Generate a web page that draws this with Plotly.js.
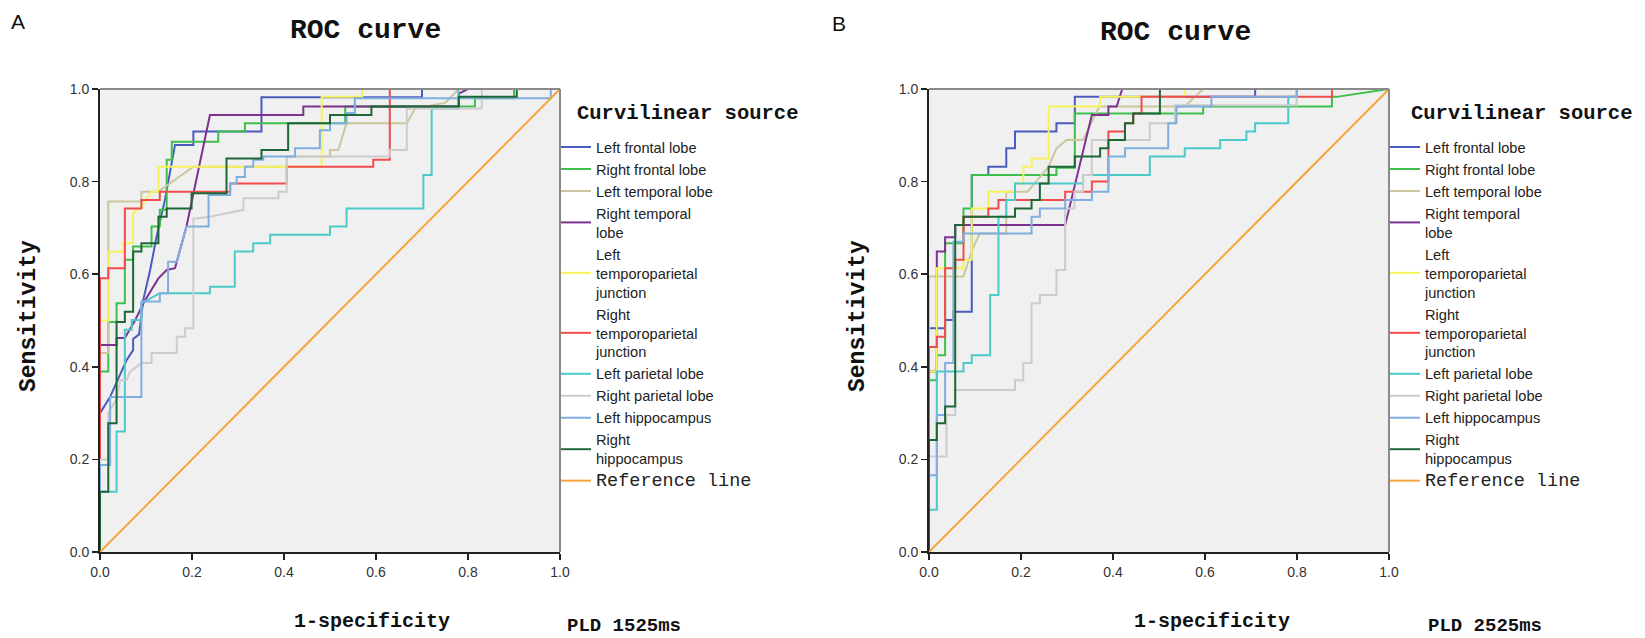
<!DOCTYPE html>
<html><head><meta charset="utf-8">
<script src="https://cdn.plot.ly/plotly-3.0.1.min.js"></script>
<style>html,body{margin:0;padding:0;background:#fff}#chart{width:1645px;height:638px}</style>
</head><body><div id="chart"></div>
<script>
const tickVals = [0, 0.2, 0.4, 0.6, 0.8, 1.0];
const tickText = ['0.0', '0.2', '0.4', '0.6', '0.8', '1.0'];
const seriesNames = ['Left frontal lobe', 'Right frontal lobe', 'Left temporal lobe', 'Right temporal<br>lobe',
  'Left<br>temporoparietal<br>junction', 'Right<br>temporoparietal<br>junction', 'Left parietal lobe',
  'Right parietal lobe', 'Left hippocampus', 'Right<br>hippocampus'];
const refName = 'Reference line';
const seriesColors = ['#4b5bbd', '#3dbf4b', '#cbc69c', '#7d3291', '#f7f35a', '#f24b4b', '#4cc9c9', '#cccccc', '#80aee0', '#1f6636'];
const refColor = '#f6a53a';

// Panel A (PLD 1525ms): [1-specificity, sensitivity]
const A_leftFrontal = [[0,0],[0,0.30],[0.022,0.335],[0.058,0.415],[0.072,0.436],[0.072,0.46],[0.085,0.47],[0.094,0.544],[0.109,0.609],[0.123,0.681],[0.141,0.76],[0.156,0.84],[0.163,0.879],[0.203,0.879],[0.203,0.908],[0.351,0.908],[0.351,0.982],[0.70,0.982],[0.70,1],[1,1]];
const A_rightFrontal = [[0,0],[0,0.39],[0.018,0.39],[0.018,0.497],[0.036,0.497],[0.036,0.537],[0.054,0.537],[0.054,0.631],[0.072,0.631],[0.072,0.66],[0.112,0.66],[0.112,0.703],[0.130,0.703],[0.130,0.739],[0.145,0.739],[0.145,0.847],[0.156,0.847],[0.156,0.886],[0.257,0.886],[0.257,0.908],[0.315,0.908],[0.315,0.926],[0.533,0.926],[0.533,0.962],[0.815,0.962],[0.815,0.98],[0.9,0.98],[0.9,1],[1,1]];
const A_leftTemporal = [[0,0],[0,0.43],[0.018,0.43],[0.018,0.757],[0.090,0.757],[0.090,0.778],[0.126,0.778],[0.203,0.832],[0.406,0.832],[0.406,0.854],[0.5,0.854],[0.5,0.868],[0.518,0.868],[0.536,0.926],[0.667,0.926],[0.685,0.958],[0.75,0.97],[0.78,1],[1,1]];
const A_rightTemporal = [[0,0],[0,0.447],[0.036,0.447],[0.036,0.462],[0.054,0.462],[0.076,0.5],[0.098,0.544],[0.127,0.591],[0.145,0.609],[0.163,0.613],[0.188,0.703],[0.239,0.944],[0.442,0.944],[0.442,0.962],[0.78,0.962],[0.78,0.99],[0.8,1],[1,1]];
const A_leftTPJ = [[0,0],[0,0.5],[0.018,0.5],[0.018,0.649],[0.051,0.649],[0.051,0.667],[0.072,0.667],[0.072,0.731],[0.09,0.746],[0.112,0.778],[0.127,0.778],[0.127,0.832],[0.482,0.832],[0.482,0.983],[0.57,0.983],[0.57,1],[1,1]];
const A_rightTPJ = [[0,0],[0,0.591],[0.018,0.591],[0.018,0.613],[0.054,0.613],[0.054,0.742],[0.09,0.742],[0.09,0.76],[0.13,0.76],[0.13,0.778],[0.283,0.778],[0.283,0.796],[0.406,0.796],[0.406,0.832],[0.594,0.832],[0.594,0.847],[0.63,0.847],[0.63,1],[1,1]];
const A_leftParietal = [[0,0],[0,0.13],[0.036,0.13],[0.036,0.26],[0.054,0.26],[0.054,0.48],[0.069,0.48],[0.069,0.501],[0.09,0.501],[0.09,0.537],[0.13,0.559],[0.239,0.559],[0.239,0.573],[0.293,0.573],[0.293,0.649],[0.333,0.649],[0.333,0.667],[0.37,0.667],[0.37,0.685],[0.50,0.685],[0.50,0.703],[0.536,0.703],[0.536,0.742],[0.703,0.742],[0.703,0.814],[0.721,0.814],[0.721,0.958],[0.779,0.958],[0.779,1],[1,1]];
const A_rightParietal = [[0,0],[0,0.2],[0.018,0.2],[0.018,0.30],[0.036,0.33],[0.044,0.371],[0.058,0.371],[0.065,0.389],[0.09,0.408],[0.112,0.408],[0.112,0.43],[0.167,0.43],[0.167,0.465],[0.185,0.465],[0.185,0.483],[0.203,0.483],[0.203,0.72],[0.239,0.724],[0.312,0.739],[0.312,0.764],[0.388,0.764],[0.388,0.778],[0.406,0.778],[0.406,0.854],[0.63,0.854],[0.63,0.868],[0.667,0.868],[0.667,0.958],[0.83,0.958],[0.83,1],[1,1]];
const A_leftHippocampus = [[0,0],[0,0.188],[0.022,0.188],[0.022,0.335],[0.09,0.335],[0.09,0.541],[0.13,0.541],[0.13,0.559],[0.148,0.559],[0.148,0.627],[0.167,0.627],[0.188,0.703],[0.236,0.703],[0.236,0.771],[0.283,0.771],[0.283,0.796],[0.297,0.796],[0.297,0.81],[0.315,0.81],[0.315,0.832],[0.333,0.832],[0.333,0.847],[0.355,0.847],[0.355,0.854],[0.424,0.854],[0.424,0.872],[0.478,0.872],[0.478,0.911],[0.5,0.911],[0.5,0.926],[0.536,0.926],[0.536,0.948],[0.554,0.948],[0.554,0.98],[0.98,0.98],[0.98,1],[1,1]];
const A_rightHippocampus = [[0,0],[0,0.13],[0.018,0.13],[0.018,0.278],[0.036,0.278],[0.036,0.497],[0.054,0.497],[0.054,0.519],[0.072,0.519],[0.072,0.649],[0.09,0.649],[0.09,0.667],[0.127,0.667],[0.127,0.724],[0.145,0.724],[0.145,0.742],[0.199,0.742],[0.199,0.775],[0.275,0.775],[0.275,0.85],[0.351,0.85],[0.351,0.868],[0.409,0.868],[0.409,0.926],[0.5,0.926],[0.5,0.944],[0.59,0.944],[0.59,0.962],[0.78,0.962],[0.78,0.983],[0.906,0.983],[0.906,1],[1,1]];

// Panel B (PLD 2525ms)
const B_leftFrontal = [[0,0],[0,0.483],[0.035,0.483],[0.035,0.501],[0.053,0.501],[0.053,0.519],[0.093,0.519],[0.093,0.814],[0.129,0.814],[0.129,0.832],[0.168,0.832],[0.168,0.872],[0.187,0.872],[0.187,0.908],[0.277,0.908],[0.277,0.926],[0.317,0.926],[0.317,0.983],[0.709,0.983],[0.709,1],[1,1]];
const B_rightFrontal = [[0,0],[0,0.371],[0.017,0.371],[0.017,0.425],[0.035,0.425],[0.035,0.667],[0.075,0.667],[0.075,0.742],[0.093,0.742],[0.093,0.814],[0.277,0.814],[0.277,0.83],[0.317,0.83],[0.317,0.947],[0.596,0.947],[0.596,0.962],[0.876,0.962],[0.876,0.983],[0.886,0.983],[1,1]];
const B_leftTemporal = [[0,0],[0,0.595],[0.075,0.595],[0.093,0.65],[0.11,0.688],[0.168,0.688],[0.168,0.778],[0.214,0.778],[0.26,0.832],[0.277,0.872],[0.299,0.89],[0.335,0.89],[0.37,0.962],[0.556,0.962],[0.596,1],[1,1]];
const B_rightTemporal = [[0,0],[0,0.39],[0.017,0.39],[0.017,0.649],[0.035,0.649],[0.035,0.68],[0.057,0.68],[0.057,0.706],[0.296,0.706],[0.354,0.944],[0.39,0.944],[0.39,0.962],[0.408,0.962],[0.42,1],[1,1]];
const B_leftTPJ = [[0,0],[0,0.39],[0.017,0.39],[0.017,0.613],[0.075,0.613],[0.075,0.631],[0.093,0.631],[0.093,0.742],[0.129,0.742],[0.129,0.778],[0.187,0.778],[0.187,0.796],[0.205,0.796],[0.205,0.832],[0.223,0.832],[0.223,0.85],[0.26,0.85],[0.26,0.962],[0.372,0.962],[0.372,0.983],[0.556,0.983],[0.556,1],[1,1]];
const B_rightTPJ = [[0,0],[0,0.443],[0.017,0.443],[0.017,0.465],[0.035,0.465],[0.035,0.613],[0.057,0.613],[0.057,0.631],[0.075,0.631],[0.075,0.724],[0.129,0.724],[0.129,0.742],[0.151,0.742],[0.151,0.76],[0.296,0.76],[0.296,0.778],[0.354,0.778],[0.354,0.80],[0.39,0.80],[0.39,0.908],[0.426,0.908],[0.426,0.926],[0.444,0.926],[0.444,0.947],[0.462,0.947],[0.462,0.983],[0.876,0.983],[0.876,1],[1,1]];
const B_leftParietal = [[0,0],[0,0.091],[0.017,0.091],[0.017,0.39],[0.075,0.39],[0.075,0.408],[0.093,0.408],[0.093,0.425],[0.133,0.425],[0.133,0.555],[0.151,0.555],[0.151,0.724],[0.168,0.724],[0.168,0.76],[0.187,0.76],[0.187,0.796],[0.335,0.796],[0.335,0.814],[0.48,0.814],[0.48,0.854],[0.556,0.854],[0.556,0.872],[0.633,0.872],[0.633,0.89],[0.69,0.89],[0.69,0.908],[0.709,0.908],[0.709,0.926],[0.781,0.926],[0.781,0.983],[0.799,0.983],[0.799,1],[1,1]];
const B_rightParietal = [[0,0],[0,0.206],[0.038,0.206],[0.038,0.296],[0.057,0.296],[0.057,0.35],[0.187,0.35],[0.187,0.371],[0.205,0.371],[0.205,0.408],[0.223,0.408],[0.223,0.537],[0.241,0.537],[0.241,0.555],[0.277,0.555],[0.277,0.609],[0.296,0.609],[0.296,0.742],[0.316,0.742],[0.316,0.778],[0.335,0.778],[0.335,0.814],[0.354,0.814],[0.354,0.89],[0.48,0.89],[0.48,0.926],[0.535,0.926],[0.535,0.965],[0.799,0.965],[0.799,1],[1,1]];
const B_leftHippocampus = [[0,0],[0,0.166],[0.017,0.166],[0.017,0.296],[0.035,0.296],[0.035,0.408],[0.053,0.408],[0.053,0.67],[0.075,0.67],[0.075,0.688],[0.223,0.688],[0.223,0.724],[0.241,0.724],[0.241,0.742],[0.296,0.742],[0.296,0.76],[0.354,0.76],[0.354,0.778],[0.39,0.778],[0.39,0.854],[0.426,0.854],[0.426,0.872],[0.52,0.872],[0.52,0.926],[0.538,0.926],[0.538,0.962],[0.614,0.962],[0.614,0.983],[0.80,0.983],[0.80,1],[1,1]];
const B_rightHippocampus = [[0,0],[0,0.242],[0.017,0.242],[0.017,0.278],[0.035,0.278],[0.035,0.314],[0.057,0.314],[0.057,0.706],[0.075,0.706],[0.075,0.724],[0.187,0.724],[0.187,0.742],[0.223,0.742],[0.223,0.76],[0.241,0.76],[0.241,0.796],[0.26,0.796],[0.26,0.832],[0.317,0.832],[0.317,0.854],[0.372,0.854],[0.372,0.872],[0.39,0.872],[0.39,0.89],[0.426,0.89],[0.426,0.926],[0.444,0.926],[0.444,0.947],[0.502,0.947],[0.502,1],[1,1]];

const referenceLine = [[0,0],[1,1]];

const panelA = [A_leftFrontal, A_rightFrontal, A_leftTemporal, A_rightTemporal, A_leftTPJ, A_rightTPJ, A_leftParietal, A_rightParietal, A_leftHippocampus, A_rightHippocampus];
const panelB = [B_leftFrontal, B_rightFrontal, B_leftTemporal, B_rightTemporal, B_leftTPJ, B_rightTPJ, B_leftParietal, B_rightParietal, B_leftHippocampus, B_rightHippocampus];

const W = 1645, H = 638;
function px2x(p) { return p / W; }
function py2y(p) { return 1 - p / H; }

const traces = [];
function addPanel(series, xa, ya, legendId) {
  series.forEach((pts, i) => {
    traces.push({
      type: 'scatter', mode: 'lines', x: pts.map(p => p[0]), y: pts.map(p => p[1]),
      name: seriesNames[i], xaxis: xa, yaxis: ya, legend: legendId,
      line: { color: seriesColors[i], width: 2 }, hoverinfo: 'skip'
    });
  });
  traces.push({
    type: 'scatter', mode: 'lines', x: referenceLine.map(p => p[0]), y: referenceLine.map(p => p[1]),
    name: '<span style="font-family:Liberation Mono;font-size:18.5px">' + refName + '</span>',
    xaxis: xa, yaxis: ya, legend: legendId,
    line: { color: refColor, width: 2 }, hoverinfo: 'skip'
  });
}
addPanel(panelA, 'x', 'y', 'legend');
addPanel(panelB, 'x2', 'y2', 'legend2');

const monoBold = 'Liberation Mono, DejaVu Sans Mono, monospace';
const yDom = [1 - 552 / H, 1 - 89 / H];
function axisX(dom) {
  return { domain: dom, range: [0, 1], tickvals: tickVals, ticktext: tickText, ticks: 'outside', ticklen: 6,
    tickwidth: 1.5, tickcolor: '#222', showline: true, linecolor: '#222', linewidth: 2, showgrid: false, zeroline: false,
    tickfont: { family: 'Liberation Sans Narrow, Liberation Sans, Arial', size: 14, color: '#333' }, fixedrange: true };
}
function axisY(anchor) {
  return { domain: yDom, anchor: anchor, range: [0, 1], tickvals: tickVals, ticktext: tickText, ticks: 'outside', ticklen: 6,
    tickwidth: 1.5, tickcolor: '#222', showline: true, linecolor: '#222', linewidth: 2, showgrid: false, zeroline: false,
    tickfont: { family: 'Liberation Sans Narrow, Liberation Sans, Arial', size: 14, color: '#333' }, fixedrange: true };
}
const xa = axisX([px2x(100), px2x(560)]); xa.anchor = 'y';
const xb = axisX([px2x(929), px2x(1389)]); xb.anchor = 'y2';

function legendBox(xpx) {
  return { x: px2x(xpx), xanchor: 'left', y: py2y(131), yanchor: 'top', bgcolor: 'rgba(0,0,0,0)',
    font: { family: 'Liberation Sans, Arial', size: 14.6, color: '#222' }, itemwidth: 30, tracegroupgap: 0 };
}

function ann(text, xpx, ypx, font, extra) {
  return Object.assign({ text: text, xref: 'paper', yref: 'paper', x: px2x(xpx), y: py2y(ypx),
    xanchor: 'center', yanchor: 'middle', showarrow: false, font: font }, extra || {});
}
const titleFont = { family: monoBold, size: 28, color: '#111', weight: 'bold' };
const sensFont = { family: monoBold, size: 23, color: '#111', weight: 'bold' };
const specFont = { family: monoBold, size: 20, color: '#111', weight: 'bold' };
const pldFont = { family: monoBold, size: 19, color: '#111', weight: 'bold' };
const legTitleFont = { family: monoBold, size: 20.5, color: '#111', weight: 'bold' };
const letterFont = { family: 'Liberation Sans, Arial', size: 21, color: '#111' };

const annotations = [
  ann('A', 18, 21, letterFont), ann('B', 839, 23, letterFont),
  ann('ROC curve', 365, 31, titleFont), ann('ROC curve', 1175, 33, titleFont),
  ann('Sensitivity', 29, 316, sensFont, { textangle: -90 }), ann('Sensitivity', 858, 316, sensFont, { textangle: -90 }),
  ann('1-specificity', 372, 621, specFont), ann('1-specificity', 1212, 621, specFont),
  ann('PLD 1525ms', 624, 626, pldFont), ann('PLD 2525ms', 1485, 626, pldFont),
  ann('Curvilinear source', 575, 114, legTitleFont, { xanchor: 'left' }),
  ann('Curvilinear source', 1409, 114, legTitleFont, { xanchor: 'left' })
];

function border(xr, yr) {
  return [
    { type: 'line', xref: xr + ' domain', yref: yr + ' domain', x0: 0, x1: 1, y0: 1, y1: 1, line: { color: '#8a8a8a', width: 2 } },
    { type: 'line', xref: xr + ' domain', yref: yr + ' domain', x0: 1, x1: 1, y0: 0, y1: 1, line: { color: '#8a8a8a', width: 2 } }
  ];
}

const layout = {
  width: W, height: H, margin: { l: 0, r: 0, t: 0, b: 0 },
  paper_bgcolor: '#ffffff', plot_bgcolor: '#f0f0f0', showlegend: true,
  xaxis: xa, yaxis: axisY('x'), xaxis2: xb, yaxis2: axisY('x2'),
  legend: legendBox(556), legend2: legendBox(1385),
  annotations: annotations, shapes: border('x', 'y').concat(border('x2', 'y2'))
};
Plotly.newPlot('chart', traces, layout, { staticPlot: true, displayModeBar: false });
</script>
</body></html>
